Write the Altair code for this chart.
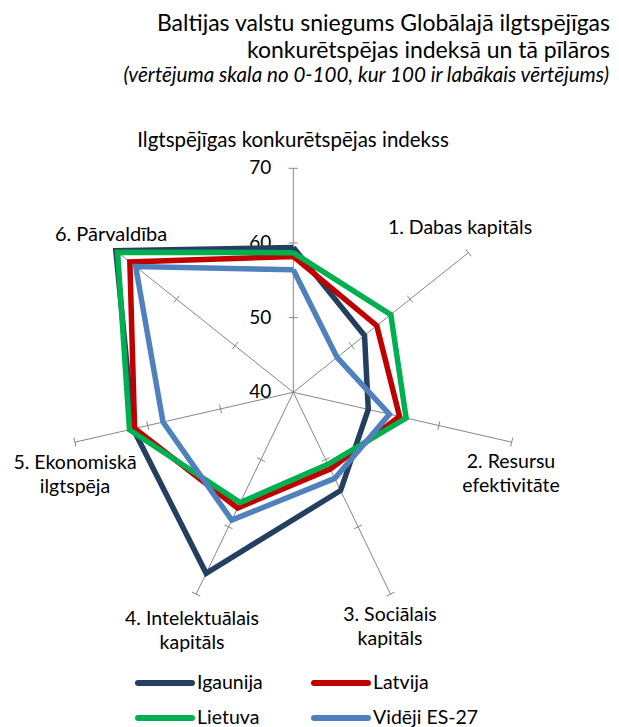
import altair as alt
import pandas as pd

# ---------------- data ----------------
axis_names = [
    ["Ilgtspējīgas konkurētspējas indekss"],
    ["1. Dabas kapitāls"],
    ["2. Resursu", "efektivitāte"],
    ["3. Sociālais", "kapitāls"],
    ["4. Intelektuālais", "kapitāls"],
    ["5. Ekonomiskā", "ilgtspēja"],
    ["6. Pārvaldība"],
]
series = ["Igaunija", "Latvija", "Lietuva", "Vidēji ES-27"]
igaunija = [59.4, 52.2, 50.3, 54.6, 66.9, 62.0, 70.4]
latvija = [58.2, 54.3, 54.6, 51.4, 57.2, 61.8, 68.0]
lietuva = [58.7, 56.7, 55.5, 50.7, 56.4, 62.5, 70.1]
videji = [56.4, 47.5, 53.2, 52.8, 59.0, 57.9, 67.0]
tick_values = [40, 50, 60, 70]
colors = ["#243F60", "#C00000", "#00B050", "#4F81BD"]

title_lines = [
    "Baltijas valstu sniegums Globālajā ilgtspējīgas",
    "konkurētspējas indeksā un tā pīlāros",
]
subtitle = "(vērtējuma skala no 0-100, kur 100 ir labākais vērtējums)"

# ---------------- layout ----------------
W, H = 603, 719
OFF = 8
CX, CY = 293.3 - OFF, 392.3 - OFF
R = 224.0
VMIN, VMAX = 40, 70
N = len(axis_names)
FONT = "Lato"
GRID = "#868686"
# label anchor (page coords, first-line baseline)
label_pos = [(293, 147), (460, 234), (511, 468), (390, 621), (192, 625), (75, 469), (111, 241)]
label_sizes = [20.5, 19.5, 19.5, 19.5, 19.5, 19.5, 20]
LINE_H = 24

xsc = alt.Scale(domain=[0, W], nice=False, zero=False)
ysc = alt.Scale(domain=[0, H], nice=False, zero=False, reverse=True)


def X(f):
    return alt.X(f, type="quantitative", scale=xsc, axis=None)


def Y(f):
    return alt.Y(f, type="quantitative", scale=ysc, axis=None)


theta_expr = f"PI/2 - datum.k*2*PI/{N}"
r_expr = f"{R}*(datum.value-{VMIN})/{VMAX - VMIN}"

# series polygons
rows = []
for s, vals in zip(series, [igaunija, latvija, lietuva, videji]):
    for k in range(N + 1):
        rows.append({"series": s, "k": k, "value": vals[k % N]})
df_series = pd.DataFrame(rows)

lines = (
    alt.Chart(df_series)
    .transform_calculate(theta=theta_expr, r=r_expr)
    .transform_calculate(px=f"{CX}+datum.r*cos(datum.theta)", py=f"{CY}-datum.r*sin(datum.theta)")
    .mark_line(strokeWidth=5.5, strokeJoin="miter", strokeMiterLimit=10)
    .encode(
        x=X("px"),
        y=Y("py"),
        color=alt.Color("series:N", scale=alt.Scale(domain=series, range=colors), legend=None),
        order="k:Q",
    )
)

# spokes
df_axes = pd.DataFrame({"k": list(range(N)), "value": [VMAX] * N})
spokes = (
    alt.Chart(df_axes)
    .transform_calculate(theta=theta_expr, r=r_expr)
    .transform_calculate(
        x0=f"{CX}", y0=f"{CY}",
        x1=f"{CX}+datum.r*cos(datum.theta)", y1=f"{CY}-datum.r*sin(datum.theta)",
    )
    .mark_rule(color=GRID, strokeWidth=1)
    .encode(x=X("x0"), y=Y("y0"), x2="x1:Q", y2="y1:Q")
)

# tick marks
trows = []
for k in range(N):
    for v in tick_values[1:]:
        trows.append({"k": k, "value": v})
df_ticks = pd.DataFrame(trows)
tk = 4.5
ticks = (
    alt.Chart(df_ticks)
    .transform_calculate(theta=theta_expr, r=r_expr)
    .transform_calculate(
        cxp=f"{CX}+datum.r*cos(datum.theta)", cyp=f"{CY}-datum.r*sin(datum.theta)"
    )
    .transform_calculate(
        x0=f"datum.cxp+{tk}*sin(datum.theta)", y0=f"datum.cyp+{tk}*cos(datum.theta)",
        x1=f"datum.cxp-{tk}*sin(datum.theta)", y1=f"datum.cyp-{tk}*cos(datum.theta)",
    )
    .mark_rule(color=GRID, strokeWidth=1)
    .encode(x=X("x0"), y=Y("y0"), x2="x1:Q", y2="y1:Q")
)

# tick labels
df_tl = pd.DataFrame({"value": tick_values, "k": [0] * len(tick_values)})
tick_labels = (
    alt.Chart(df_tl)
    .transform_calculate(r=r_expr)
    .transform_calculate(px=f"{CX - 22}", py=f"{CY}-datum.r")
    .mark_text(align="right", baseline="middle", font=FONT, fontSize=19, color="#000000")
    .encode(x=X("px"), y=Y("py"), text="value:Q")
)

# axis labels
df_lab = pd.DataFrame({
    "label": axis_names,
    "lx": [p[0] - OFF for p in label_pos],
    "ly": [p[1] - OFF for p in label_pos],
    "fs": label_sizes,
})
axis_labels = (
    alt.Chart(df_lab)
    .mark_text(align="center", baseline="alphabetic", font=FONT,
               color="#000000", lineHeight=LINE_H)
    .encode(x=X("lx"), y=Y("ly"), text="label",
            size=alt.Size("fs:Q", scale=None, legend=None))
)

# legend (manual, computed from series order)
df_leg = pd.DataFrame({"series": series, "i": list(range(len(series)))})
LX0, LY0, LDX, LDY, LLEN = 138 - OFF, 683 - OFF, 176, 35, 54
leg_base = alt.Chart(df_leg).transform_calculate(
    col="datum.i % 2", row="floor(datum.i / 2)"
).transform_calculate(
    x0=f"{LX0}+datum.col*{LDX}", x1=f"{LX0 + LLEN}+datum.col*{LDX}",
    tx=f"{LX0 + LLEN + 5}+datum.col*{LDX}", ly=f"{LY0}+datum.row*{LDY}",
)
leg_lines = leg_base.mark_rule(strokeWidth=6, strokeCap="round").encode(
    x=X("x0"), x2="x1:Q", y=Y("ly"),
    color=alt.Color("series:N", scale=alt.Scale(domain=series, range=colors), legend=None),
)
leg_text = leg_base.mark_text(align="left", baseline="middle", font=FONT, fontSize=19.5,
                              color="#000000").encode(x=X("tx"), y=Y("ly"), text="series:N")

# titles
t1 = alt.Chart(pd.DataFrame({"t": [title_lines[0]]})).mark_text(
    align="right", baseline="alphabetic", font=FONT, fontSize=23, color="#000000"
).encode(x=alt.value(610 - OFF), y=alt.value(31 - OFF), text="t:N")
t2 = alt.Chart(pd.DataFrame({"t": [title_lines[1]]})).mark_text(
    align="right", baseline="alphabetic", font=FONT, fontSize=23, color="#000000"
).encode(x=alt.value(610 - OFF), y=alt.value(58 - OFF), text="t:N")
t3 = alt.Chart(pd.DataFrame({"t": [subtitle]})).mark_text(
    align="right", baseline="alphabetic", font=FONT, fontSize=20.6, fontStyle="italic",
    color="#000000"
).encode(x=alt.value(609 - OFF), y=alt.value(82 - OFF), text="t:N")

chart = (
    alt.layer(spokes, ticks, tick_labels, axis_labels, lines, leg_lines, leg_text, t1, t2, t3)
    .properties(width=W, height=H, autosize=alt.AutoSizeParams(type="none"), padding=0)
    .configure_view(stroke=None)
)

chart.save("out.html", embed_options={"renderer": "svg", "actions": False})
